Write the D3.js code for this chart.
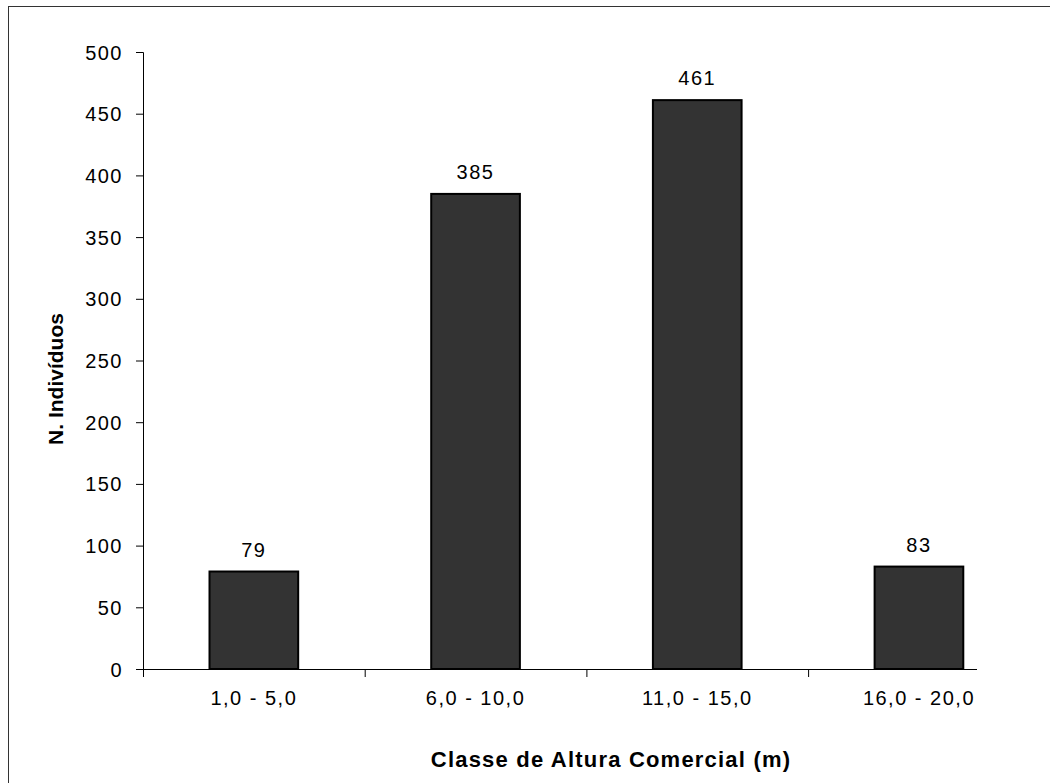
<!DOCTYPE html>
<html>
<head>
<meta charset="utf-8">
<script src="https://cdn.jsdelivr.net/npm/d3@7"></script>
<style>
  body { margin: 0; background: #fff; }
  text { font-family: "Liberation Sans", Arial, sans-serif; fill: #000; }
</style>
</head>
<body>
<div id="chart"></div>
<script>
// data
const classes = ["1,0 - 5,0", "6,0 - 10,0", "11,0 - 15,0", "16,0 - 20,0"];
const counts = [79, 385, 461, 83];
const yTicks = [0, 50, 100, 150, 200, 250, 300, 350, 400, 450, 500];

const W = 1050, H = 783;
const plotLeft = 143, bandW = 221.7, plotBottom = 669, plotTop = 52;

const svg = d3.select("#chart")
  .append("svg")
    .attr("width", W)
    .attr("height", H);

// outer frame (right and bottom edges fall outside the picture)
svg.append("rect")
  .attr("x", 8.5).attr("y", 6.5)
  .attr("width", 1100).attr("height", 900)
  .attr("fill", "none")
  .attr("stroke", "#333")
  .attr("stroke-width", 1);

const x = d3.scaleBand()
  .domain(classes)
  .range([plotLeft, plotLeft + bandW * classes.length])
  .paddingInner(0.6)
  .paddingOuter(0.3);

const y = d3.scaleLinear()
  .domain([0, 500])
  .range([plotBottom, plotTop]);

// bars
svg.selectAll("rect.bar")
  .data(counts)
  .join("rect")
    .attr("class", "bar")
    .attr("x", (d, i) => x(classes[i]))
    .attr("y", d => y(d))
    .attr("width", x.bandwidth())
    .attr("height", d => y(0) - y(d))
    .attr("fill", "#333333")
    .attr("stroke", "#000")
    .attr("stroke-width", 2);

// value labels
svg.selectAll("text.val")
  .data(counts)
  .join("text")
    .attr("class", "val")
    .attr("x", (d, i) => x(classes[i]) + x.bandwidth() / 2)
    .attr("y", d => y(d) - 15)
    .attr("text-anchor", "middle")
    .style("font-size", "20px")
    .style("letter-spacing", "1.5px")
    .text(d => d);

// Y axis
const yAxis = svg.append("g")
  .attr("transform", `translate(${plotLeft},0)`)
  .call(d3.axisLeft(y).tickValues(yTicks).tickSize(7).tickPadding(13));
yAxis.select(".domain").attr("stroke", "#000");
yAxis.selectAll("text")
  .style("font-size", "20px")
  .style("letter-spacing", "1.5px")
  .attr("dy", "0.35em");

// X axis: line cut short like the original, ticks on band edges
svg.append("line")
  .attr("x1", plotLeft).attr("x2", 977)
  .attr("y1", plotBottom + 0.5).attr("y2", plotBottom + 0.5)
  .attr("stroke", "#000");

svg.selectAll("line.xtick")
  .data(classes)
  .join("line")
    .attr("class", "xtick")
    .attr("x1", (d, i) => plotLeft + i * bandW + 0.5)
    .attr("x2", (d, i) => plotLeft + i * bandW + 0.5)
    .attr("y1", plotBottom).attr("y2", plotBottom + 8)
    .attr("stroke", "#000");

svg.selectAll("text.xlab")
  .data(classes)
  .join("text")
    .attr("class", "xlab")
    .attr("x", d => x(d) + x.bandwidth() / 2)
    .attr("y", 705)
    .attr("text-anchor", "middle")
    .style("font-size", "20px")
    .style("letter-spacing", "1.5px")
    .text(d => d);

// axis titles
svg.append("text")
  .attr("x", 611).attr("y", 767)
  .attr("text-anchor", "middle")
  .style("font-size", "22px")
  .style("font-weight", "bold")
  .style("letter-spacing", "1.2px")
  .text("Classe de Altura Comercial (m)");

svg.append("text")
  .attr("transform", "translate(63,379) rotate(-90)")
  .attr("text-anchor", "middle")
  .style("font-size", "21px")
  .style("font-weight", "bold")
  .text("N. Indivíduos");
</script>
</body>
</html>
